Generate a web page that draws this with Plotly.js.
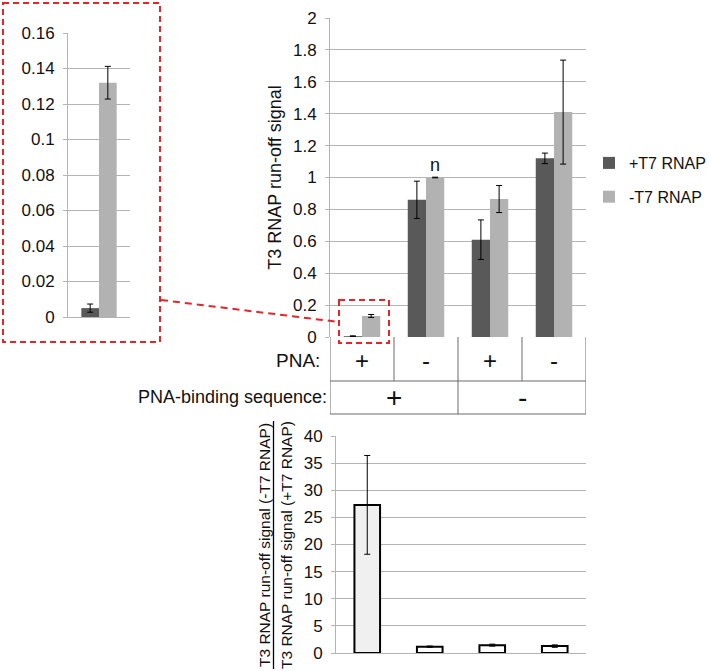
<!DOCTYPE html>
<html>
<head>
<meta charset="utf-8">
<script src="https://cdn.plot.ly/plotly-3.0.1.min.js"></script>
<style>html,body{margin:0;padding:0;background:#fff}#chart{width:709px;height:671px}</style>
</head>
<body>
<div id="chart"></div>
<script>
// ---- data ----
var categories = ['A', 'B', 'C', 'D'];
var plusT7 = [0.005, 0.86, 0.61, 1.12];
var plusT7Err = [0.0023, 0.117, 0.124, 0.033];
var minusT7 = [0.132, 1.0, 0.865, 1.41];
var minusT7Err = [0.0092, 0.002, 0.085, 0.326];
var insetCategory = ['A'];
var insetPlus = [0.005];
var insetPlusErr = [0.0023];
var insetMinus = [0.132];
var insetMinusErr = [0.0092];
var ratio = [27.3, 1.17, 1.45, 1.27];
var ratioErr = [9.1, 0.12, 0.18, 0.22];
var pnaRow = ['+', '-', '+', '-'];
var bindingRow = ['+', '-'];
var seriesNames = ['+T7 RNAP', '-T7 RNAP'];
var mainTicks = [0, 0.2, 0.4, 0.6, 0.8, 1, 1.2, 1.4, 1.6, 1.8, 2];
var insetTicks = [0, 0.02, 0.04, 0.06, 0.08, 0.1, 0.12, 0.14, 0.16];
var ratioTicks = [0, 5, 10, 15, 20, 25, 30, 35, 40];
var ratioTitleLines = ['T3 RNAP run-off signal (-T7 RNAP)', 'T3 RNAP run-off signal (+T7 RNAP)'];

// ---- helpers ----
var W = 709, H = 671;
function px(x) { return x / W; }
function py(y) { return 1 - y / H; }
var FONT = 'Liberation Sans, Arial, sans-serif';
var DARK = '#595959', LIGHT = '#b2b2b2', GRID = '#b4b4b4', RED = '#e4262b', TXT = '#111';

function err(a) { return {type: 'data', array: a, visible: true, color: '#000', thickness: 1, width: 3}; }

var traces = [
  {type: 'bar', x: categories, y: plusT7, name: seriesNames[0], marker: {color: DARK}, error_y: err(plusT7Err), xaxis: 'x', yaxis: 'y', legendgroup: 'g1'},
  {type: 'bar', x: categories, y: minusT7, name: seriesNames[1], marker: {color: LIGHT}, error_y: err(minusT7Err), xaxis: 'x', yaxis: 'y', legendgroup: 'g2'},
  {type: 'bar', x: insetCategory, y: insetPlus, name: seriesNames[0], marker: {color: DARK}, error_y: err(insetPlusErr), xaxis: 'x2', yaxis: 'y2', showlegend: false},
  {type: 'bar', x: insetCategory, y: insetMinus, name: seriesNames[1], marker: {color: LIGHT}, error_y: err(insetMinusErr), xaxis: 'x2', yaxis: 'y2', showlegend: false},
  {type: 'bar', x: categories, y: ratio, width: 0.41, marker: {color: ['#f0f0f0', '#ffffff', '#ffffff', '#ffffff'], line: {color: '#000', width: 2}}, error_y: err(ratioErr), xaxis: 'x3', yaxis: 'y3', showlegend: false}
];

var yCommon = {
  showgrid: true, gridcolor: GRID, gridwidth: 1, zeroline: false,
  showline: true, linecolor: GRID, linewidth: 1,
  ticks: 'outside', ticklen: 4, tickcolor: GRID, ticklabelstandoff: 5,
  tickfont: {family: FONT, size: 17, color: TXT}, tickmode: 'array', fixedrange: true
};
function ycopy(extra) { var o = JSON.parse(JSON.stringify(yCommon)); for (var k in extra) o[k] = extra[k]; return o; }
var xCommon = {showgrid: false, zeroline: false, showticklabels: false, showline: true, linecolor: GRID, linewidth: 1, ticks: '', fixedrange: true};
function xcopy(extra) { var o = JSON.parse(JSON.stringify(xCommon)); for (var k in extra) o[k] = extra[k]; return o; }

var shapes = [];
var TL = '#6a6a6a';
// table lines (anchored to main x axis category positions)
var tTop = py(337), tMid = py(381), tBot = py(414);
[-0.5, 1.5, 3.5].forEach(function (b) { shapes.push({type: 'line', xref: 'x', yref: 'paper', x0: b, x1: b, y0: tTop, y1: tBot, line: {color: TL, width: 1}}); });
[0.5, 2.5].forEach(function (b) { shapes.push({type: 'line', xref: 'x', yref: 'paper', x0: b, x1: b, y0: tTop, y1: tMid, line: {color: TL, width: 1}}); });
shapes.push({type: 'line', xref: 'x', yref: 'paper', x0: -0.5, x1: 3.5, y0: tMid, y1: tMid, line: {color: TL, width: 1}});
shapes.push({type: 'line', xref: 'x', yref: 'paper', x0: -0.5, x1: 3.5, y0: tBot, y1: tBot, line: {color: TL, width: 1}});
// red dashed zoom boxes
shapes.push({type: 'rect', xref: 'paper', yref: 'paper', x0: px(3), x1: px(160), y0: py(3), y1: py(342), line: {color: RED, width: 2, dash: '6px,4px'}});
shapes.push({type: 'rect', xref: 'paper', yref: 'paper', x0: px(339), x1: px(389), y0: py(300), y1: py(343), line: {color: RED, width: 2, dash: '6px,4px'}});
shapes.push({type: 'line', xref: 'paper', yref: 'paper', x0: px(161), x1: px(339), y0: py(300), y1: py(322), line: {color: RED, width: 2, dash: '7px,5px'}});
// fraction bar of bottom title
shapes.push({type: 'line', xref: 'paper', yref: 'paper', x0: px(273.5), x1: px(273.5), y0: py(421), y1: py(669), line: {color: '#000', width: 1.3}});

var annotations = [];
var rowY1 = py(360), rowY2 = py(397);
pnaRow.forEach(function (s, i) {
  annotations.push({xref: 'x', yref: 'paper', x: i, y: rowY1, text: s, showarrow: false, font: {family: FONT, size: 24, color: TXT}, xanchor: 'center', yanchor: 'middle'});
});
bindingRow.forEach(function (s, i) {
  annotations.push({xref: 'x', yref: 'paper', x: 2 * i + 0.5, y: rowY2, text: s, showarrow: false, font: {family: FONT, size: 28, color: TXT}, xanchor: 'center', yanchor: 'middle'});
});
annotations.push({xref: 'paper', yref: 'paper', x: px(322), y: rowY1, text: 'PNA:', showarrow: false, font: {family: FONT, size: 19, color: TXT}, xanchor: 'right', yanchor: 'middle'});
annotations.push({xref: 'paper', yref: 'paper', x: px(329), y: rowY2, text: 'PNA-binding sequence:', showarrow: false, font: {family: FONT, size: 18, color: TXT}, xanchor: 'right', yanchor: 'middle'});
annotations.push({xref: 'x', yref: 'y', x: 1, y: minusT7[1], xshift: 9, yshift: 1, text: 'n', showarrow: false, font: {family: FONT, size: 18, color: TXT}, xanchor: 'center', yanchor: 'bottom'});
// two-line ratio title (numerator / denominator), rotated
annotations.push({xref: 'paper', yref: 'paper', x: px(264), y: py(545), text: ratioTitleLines[0], textangle: -90, showarrow: false, font: {family: FONT, size: 15.5, color: TXT}, xanchor: 'center', yanchor: 'middle'});
annotations.push({xref: 'paper', yref: 'paper', x: px(286), y: py(545), text: ratioTitleLines[1], textangle: -90, showarrow: false, font: {family: FONT, size: 15.5, color: TXT}, xanchor: 'center', yanchor: 'middle'});

var layout = {
  width: W, height: H,
  margin: {l: 0, r: 0, t: 0, b: 0, autoexpand: false},
  paper_bgcolor: '#fff', plot_bgcolor: 'rgba(0,0,0,0)',
  barmode: 'group', bargap: 0.43, bargroupgap: 0,
  font: {family: FONT, color: TXT},
  showlegend: true,
  legend: {x: px(589), y: py(146), xanchor: 'left', yanchor: 'top', font: {family: FONT, size: 16, color: TXT}, tracegroupgap: 10, bgcolor: 'rgba(0,0,0,0)', itemwidth: 30},
  xaxis: xcopy({domain: [px(330), px(586)], anchor: 'y', range: [-0.5, 3.5], type: 'category', showline: false}),
  yaxis: ycopy({domain: [py(337), py(18)], anchor: 'x', range: [0, 2], tickvals: mainTicks, ticktext: mainTicks.map(String),
    title: {text: 'T3 RNAP run-off signal', font: {family: FONT, size: 18, color: TXT}, standoff: 6}}),
  xaxis2: xcopy({domain: [px(68), px(130)], anchor: 'y2', range: [-0.5, 0.5], type: 'category'}),
  yaxis2: ycopy({domain: [py(317), py(33)], anchor: 'x2', range: [0, 0.16], tickvals: insetTicks, ticktext: insetTicks.map(String)}),
  xaxis3: xcopy({domain: [px(336), px(586)], anchor: 'y3', range: [-0.5, 3.5], type: 'category'}),
  yaxis3: ycopy({domain: [py(653), py(436)], anchor: 'x3', range: [0, 40], tickvals: ratioTicks, ticktext: ratioTicks.map(String)}),
  shapes: shapes,
  annotations: annotations
};

Plotly.newPlot('chart', traces, layout, {displayModeBar: false, staticPlot: true});
</script>
</body>
</html>
